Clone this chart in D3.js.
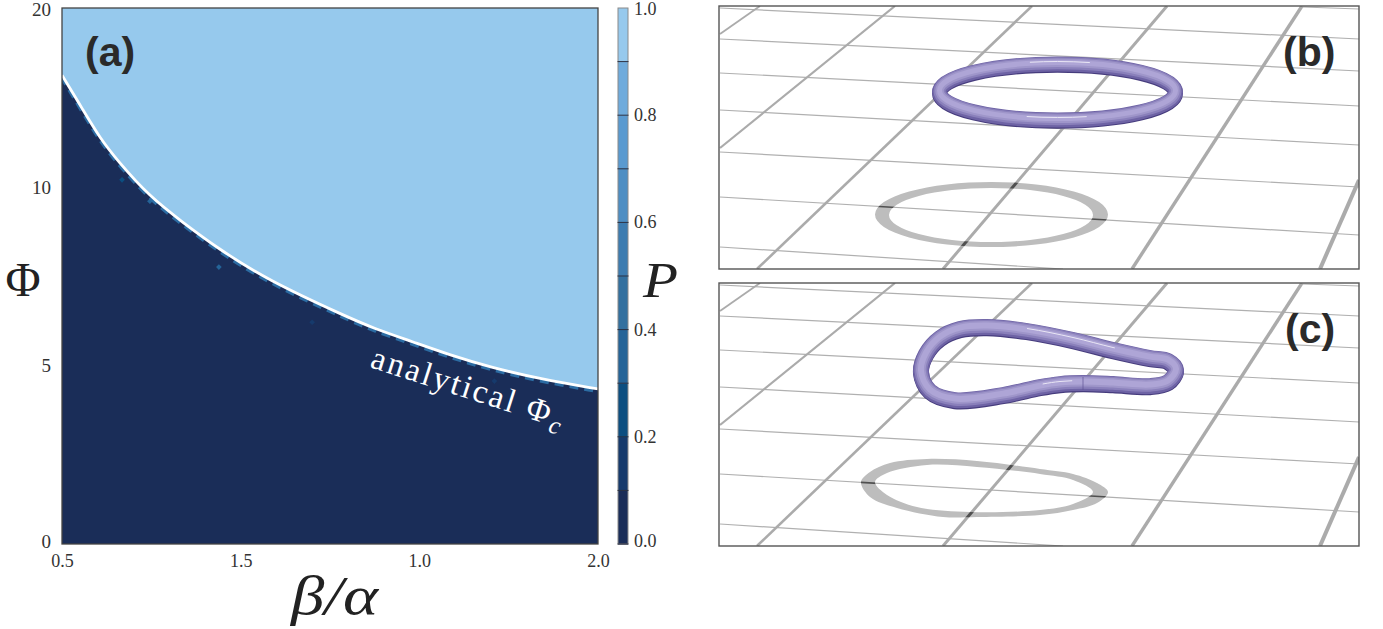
<!DOCTYPE html>
<html><head><meta charset="utf-8">
<script src="https://cdnjs.cloudflare.com/ajax/libs/d3/7.8.5/d3.min.js"></script>
<style>html,body{margin:0;padding:0;background:#fff}svg{display:block}</style></head>
<body><svg id="c" width="1383" height="629"></svg>
<script>
// ---- Panel (a) data
const betaOverAlpha=[0.5,0.559,0.606,0.654,0.746,0.839,0.934,1.074,1.298,1.370,1.482,1.586,1.698,1.838,2.0];
const phiCritical=[16.25,14.3,12.74,11.5,9.72,9.0,8.29,7.39,6.35,6.04,5.65,5.28,4.94,4.61,4.33];
const xTickValues=[0.5,1.0,1.5,2.0];
const xTickLabels=["0.5","1.5","1.0","2.0"];       // printed as in the source figure
const yTickValues=[0,5,10,20];
const yTickLabels=["0","5","10","20"];
const speckleBeta=[0.668,0.746,0.939,1.2,1.71];
const specklePhi=[10.4,9.6,7.75,6.2,4.55];
const speckleP=[0.25,0.35,0.35,0.15,0.15];
const pBands=[0,0.1,0.2,0.3,0.4,0.5,0.6,0.7,0.8,0.9,1.0];
const pColors=["#1a2d58","#163a6c","#0c4e80","#256498","#33709f","#3d7cb0","#4e8ec3","#5a9ad0","#6fabdc","#96c9ed"];
const pTicks=[0,0.2,0.4,0.6,0.8,1.0];
// ---- Panels (b),(c) scene geometry, in scene units
const thinLines=[[[1303,7],[1359,9]],[[720,8],[1359,39]],[[720,39],[1359,71]],[[720,73],[1359,106]],[[720,110],[1359,145]],[[720,152],[1359,187]],[[720,197],[1359,235]],[[720,247],[1063,269]]];
const thickLines=[[[760,6],[720,34],1.8],[[895,6],[720,148],2.2],[[1032,6],[757,269],2.6],[[1167,6],[943,269],3],[[1302,6],[1132,269],3.4],[[1359,180],[1320,269],4]];
const ringB=[1057.5,92,118,28];
const shadowBOuter=[991.5,214.5,116.5,32.5];
const shadowBInner=[991,215,102,27];
const ringC=[[987,327],[1027,331],[1073,340],[1113,350],[1150,358],[1168,361],[1176,370],[1168,382],[1150,386],[1113,384],[1083,383],[1060,384],[1040,387],[1003,395],[955,400],[930,391],[921,372],[926,354],[940,338],[960,329]];
const shadowCOuter=[[861,482],[870,472],[890,463],[927,459],[977,461],[1040,469],[1073,474],[1097,483],[1108,492],[1097,503],[1073,510],[1040,515],[977,517],[943,517],[897,508],[870,497]];
const shadowCInner=[[875,482],[887,473],[927,465],[977,467],[1040,474],[1073,480],[1093,492],[1073,504],[1040,510],[970,512],[917,507],[887,495]];

const svg=d3.select("#c");
const defs=svg.append("defs");
const serif="'Liberation Serif',serif", sans="'Liberation Sans',sans-serif";

// ---- Panel (a)
const L=62,R=598,T=8,B=544;
const x=d3.scaleLinear().domain([0.5,2]).range([L,R]);
const y=d3.scaleLinear().domain(yTickValues).range([B,365,187,T]);
const curvePts=betaOverAlpha.map((b,i)=>[b,phiCritical[i]]);
const color=d3.scaleThreshold().domain(pBands.slice(1,-1)).range(pColors);
defs.append("clipPath").attr("id","plotClip").append("rect").attr("x",L).attr("y",T).attr("width",R-L).attr("height",B-T);
const a=svg.append("g").attr("clip-path","url(#plotClip)");
a.append("rect").attr("x",L).attr("y",T).attr("width",R-L).attr("height",B-T).attr("fill",color(0));
const ln=d3.line().x(d=>x(d[0])).y(d=>y(d[1])).curve(d3.curveBasis);
a.selectAll("rect.s").data(speckleBeta).join("rect").attr("class","s")
 .attr("x",d=>x(d)-2).attr("y",(d,i)=>y(specklePhi[i])-2).attr("width",4).attr("height",4)
 .attr("transform",(d,i)=>`rotate(45 ${x(d)} ${y(specklePhi[i])})`).attr("fill",(d,i)=>color(speckleP[i]));
a.append("path").attr("d",ln(curvePts)).attr("fill","none").attr("stroke","#2c6ca3").attr("stroke-width",5)
 .attr("stroke-dasharray","9 6").attr("transform","translate(0,1.6)");
const areaAbove=d3.area().x(d=>x(d[0])).y0(T).y1(d=>y(d[1])).curve(d3.curveBasis);
a.append("path").attr("d",areaAbove(curvePts)).attr("fill",color(1));
a.append("path").attr("d",ln(curvePts)).attr("fill","none").attr("stroke","#fff").attr("stroke-width",2.8);
svg.append("rect").attr("x",L).attr("y",T).attr("width",R-L).attr("height",B-T).attr("fill","none").attr("stroke","#444").attr("stroke-width",1.3);

const axX=d3.axisBottom(x).tickValues(xTickValues).tickSize(0).tickPadding(0).tickFormat((d,i)=>xTickLabels[i]);
const gx=svg.append("g").attr("transform",`translate(0,${B})`).call(axX);
gx.select(".domain").remove();
gx.selectAll("text").attr("y",23).attr("dy",0).attr("font-family",serif).attr("font-size",18).attr("fill","#333");
const axY=d3.axisLeft(y).tickValues(yTickValues).tickSize(0).tickPadding(0).tickFormat((d,i)=>yTickLabels[i]);
const gy=svg.append("g").attr("transform",`translate(${L},0)`).call(axY);
gy.select(".domain").remove();
gy.selectAll("text").attr("x",-11).attr("dy",(d)=>d===0?3:(d===20?7:6)).attr("font-family",serif).attr("font-size",19).attr("fill","#333");

// colour bar
const cy=d3.scaleLinear().domain([0,1]).range([B,T]);
const cb=svg.append("g");
cb.selectAll("rect").data(pColors).join("rect").attr("x",618).attr("width",10)
 .attr("y",(d,i)=>cy(pBands[i+1])).attr("height",(d,i)=>cy(pBands[i])-cy(pBands[i+1])+0.5).attr("fill",d=>d);
cb.append("rect").attr("x",618).attr("y",T).attr("width",10).attr("height",B-T).attr("fill","none").attr("stroke","#8a8a8a").attr("stroke-width",1);
cb.selectAll("line").data(pBands.slice(0,-1)).join("line").attr("x1",617.5).attr("x2",628.5)
 .attr("y1",d=>cy(d)).attr("y2",d=>cy(d)).attr("stroke","#2a2f40").attr("stroke-width",1);
cb.selectAll("text").data(pTicks).join("text").attr("x",634).attr("y",d=>cy(d)+(d===0?3:d===1?7:6))
 .attr("font-family",serif).attr("font-size",18).attr("fill","#333").text(d=>d3.format(".1f")(d));

// axis titles
svg.append("text").attr("x",291).attr("y",614).attr("font-family",serif).attr("font-style","italic").attr("font-size",54).attr("textLength",87).attr("lengthAdjust","spacingAndGlyphs").attr("fill","#222").text("β/α");
svg.append("text").attr("x",23).attr("y",296).attr("text-anchor","middle").attr("font-family",serif).attr("font-size",48).attr("fill","#222").text("Φ");
svg.append("text").attr("x",643).attr("y",297).attr("font-family",serif).attr("font-style","italic").attr("font-size",50).attr("textLength",35).attr("lengthAdjust","spacingAndGlyphs").attr("fill","#222").text("P");

// curve annotation
const ann=svg.append("text").attr("transform","translate(369,367) rotate(17.8)").attr("font-family",serif).attr("font-size",33).attr("letter-spacing",2.4).attr("fill","#fff");
ann.append("tspan").text("analytical Φ");
ann.append("tspan").attr("font-style","italic").attr("font-size",25).attr("dy",7).text("c");

// ---- Panels (b),(c)
const sx=d3.scaleLinear().domain([719,1359]).range([719,1359]);
const sy=d3.scaleLinear().domain([6,269]).range([6,269]);
const closed=d3.line().x(d=>sx(d[0])).y(d=>sy(d[1])).curve(d3.curveCatmullRomClosed.alpha(0.5));
const oval=e=>{const l=sx(e[0]-e[2]),r=sx(e[0]+e[2]),m=sy(e[1]);return `M${l},${m}A${e[2]},${e[3]} 0 1,0 ${r},${m}A${e[2]},${e[3]} 0 1,0 ${l},${m}Z`;};
function grid(g,thinCol,thickCol,extra){
  g.selectAll("line.t").data(thinLines).join("line").attr("class","t")
   .attr("x1",d=>sx(d[0][0])).attr("y1",d=>sy(d[0][1])).attr("x2",d=>sx(d[1][0])).attr("y2",d=>sy(d[1][1]))
   .attr("stroke",thinCol).attr("stroke-width",1.2+extra);
  g.selectAll("line.k").data(thickLines).join("line").attr("class","k")
   .attr("x1",d=>sx(d[0][0])).attr("y1",d=>sy(d[0][1])).attr("x2",d=>sx(d[1][0])).attr("y2",d=>sy(d[1][1]))
   .attr("stroke",thickCol).attr("stroke-width",d=>d[2]);
}
function panel(id,dy,shadowD,rd,w,dash,label,labelX){
  const top=6, h=263;
  defs.append("clipPath").attr("id","f"+id).append("rect").attr("x",719).attr("y",top).attr("width",640).attr("height",h);
  defs.append("clipPath").attr("id","s"+id).append("path").attr("d",shadowD).attr("clip-rule","evenodd");
  const p=svg.append("g").attr("transform",`translate(0,${dy})`);
  const c=p.append("g").attr("clip-path",`url(#f${id})`);
  grid(c.append("g"),"#b0b0b0","#ababab",0);
  c.append("path").attr("d",shadowD).attr("fill","#bdbdbd").attr("fill-rule","evenodd");
  grid(c.append("g").attr("clip-path",`url(#s${id})`),"#505050","#505050",0.4);
  [["#463c7d",w,1.2],["#6e63a5",w,0.1],["#8a80bb",w-3,-0.8],["#9f96ca",w-6.5,-1.2],["#aea5d6",w-10,-1.4]].forEach(s=>{
    c.append("path").attr("d",rd).attr("fill","none").attr("stroke",s[0]).attr("stroke-width",s[1]).attr("transform",`translate(0,${s[2]})`);
  });
  c.append("path").attr("d",rd).attr("fill","none").attr("stroke","#e9e6f5").attr("stroke-width",1)
   .attr("stroke-dasharray",dash).attr("transform","translate(0,-2.5)");
  p.append("rect").attr("x",719).attr("y",top).attr("width",640).attr("height",h).attr("fill","none").attr("stroke","#555").attr("stroke-width",1.4);
  p.append("text").attr("x",labelX).attr("y",66-dy+(id==="c"?277:0)).attr("font-family",sans).attr("font-weight",700).attr("font-size",41).attr("fill","#2a2a2a").text(label);
}
const up=d=>[d[0],d[1]-277];
panel("b",0,oval(shadowBOuter)+oval(shadowBInner),oval(ringB),15,"0 95 60 190 60 95","(b)",1283);
panel("c",277,closed(shadowCOuter.map(up))+closed(shadowCInner.map(up)),closed(ringC.map(up)),16,"90 178 30 1000","(c)",1285);
svg.append("line").attr("x1",sx(1083)).attr("x2",sx(1083)).attr("y1",377).attr("y2",390).attr("stroke","#5f5597").attr("stroke-width",0.7);
svg.append("text").attr("x",85).attr("y",66).attr("font-family",sans).attr("font-weight",700).attr("font-size",41).attr("fill","#2a2a2a").text("(a)");
</script></body></html>
